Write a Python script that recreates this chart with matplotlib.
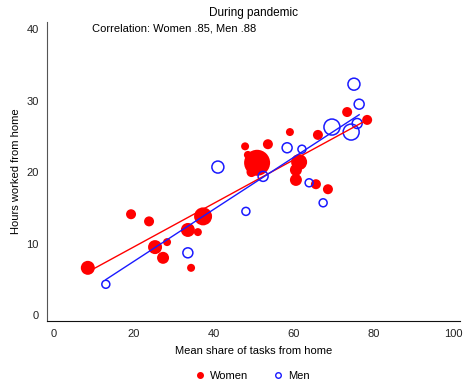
import matplotlib
matplotlib.use("Agg")
import matplotlib.pyplot as plt
import numpy as np
from matplotlib.lines import Line2D

plt.rcParams['font.family'] = ['Liberation Sans', 'DejaVu Sans']

# Women (filled red): share of tasks from home, hours from home, marker radius (weight)
women_x = [8.6, 19.4, 23.9, 25.4, 28.4, 27.4, 33.6, 34.4, 36.1, 37.4, 47.9, 48.6, 50.9,
           49.5, 61.4, 60.6, 60.6, 65.6, 68.6, 66.1, 59.1, 73.4, 78.4, 53.6]
women_y = [6.6, 14.1, 13.1, 9.5, 10.2, 8.0, 11.9, 6.6, 11.6, 13.8, 23.6, 22.4, 21.3,
           20.0, 21.4, 20.3, 18.9, 18.3, 17.6, 25.2, 25.6, 28.4, 27.3, 23.9]
women_w = [7, 5, 5, 7, 4, 6, 7, 4, 4, 9, 4, 4, 13,
           5, 8, 6, 6, 5, 5, 5, 4, 5, 5, 5]

# Men (hollow blue)
men_x = [13.1, 33.6, 41.1, 48.1, 52.4, 58.4, 62.1, 63.9, 67.4, 69.6, 74.4, 75.9, 75.1, 76.4]
men_y = [4.3, 8.7, 20.7, 14.5, 19.4, 23.4, 23.2, 18.5, 15.7, 26.3, 25.6, 26.8, 32.3, 29.5]
men_w = [4, 5, 6, 4, 5, 5, 4, 4, 4, 8, 8, 5, 6, 5]

x_ticks = [0, 20, 40, 60, 80, 100]
y_ticks = [0, 10, 20, 30, 40]

fig = plt.figure(figsize=(4.63, 3.81), dpi=100)
W, H = 463, 381
ax = fig.add_axes([47 / W, 1 - 321 / H, (460 - 47) / W, (321 - 22) / H])

def sz(w):
    w = np.asarray(w, float)
    return (2 * w * 0.72) ** 2

wx, wy, ww = map(np.asarray, (women_x, women_y, women_w))
mx, my, mw = map(np.asarray, (men_x, men_y, men_w))

ax.scatter(wx, wy, s=sz(ww), color='#ff0000', edgecolors='none', zorder=3)
ax.scatter(mx, my, s=sz(mw), facecolors='none', edgecolors='#1a1aff', linewidths=1.1, zorder=3)

# weighted linear fits
for x, y, w, c in [(wx, wy, ww, '#ff0000'), (mx, my, mw, '#1a1aff')]:
    b = np.polyfit(x, y, 1, w=w)
    xs = np.array([x.min(), x.max()])
    ax.plot(xs, np.polyval(b, xs), color=c, lw=1.0, zorder=4)

ax.set_xlim(-1.6, 101.6)
ax.set_ylim(-0.84, 41.0)
ax.set_xticks(x_ticks)
ax.set_yticks(y_ticks)
ax.tick_params(length=0, labelsize=8, pad=6, colors='#222222')
for s in ['top', 'right']:
    ax.spines[s].set_visible(False)
ax.spines['left'].set_color('#555555')
ax.spines['bottom'].set_color('#111111')

ax.set_xlabel('Mean share of tasks from home', fontsize=8, labelpad=5)
ax.set_ylabel('Hours worked from home', fontsize=8, labelpad=4)
ax.set_title('During pandemic', fontsize=8.5, pad=4)
ax.text(9.6, 40.1, 'Correlation: Women .85, Men .88', fontsize=8, va='center', ha='left')

handles = [Line2D([], [], marker='o', ls='none', color='#ff0000', markersize=4),
           Line2D([], [], marker='o', ls='none', markerfacecolor='none',
                  markeredgecolor='#1a1aff', markeredgewidth=1.0, markersize=4)]
fig.legend(handles, ['Women', 'Men'], loc='center', bbox_to_anchor=(252 / W, 1 - 376 / H),
           ncol=2, frameon=False, fontsize=8, handletextpad=0.4, columnspacing=2.2,
           handlelength=1.0)

fig.savefig('out.png', dpi=100)
